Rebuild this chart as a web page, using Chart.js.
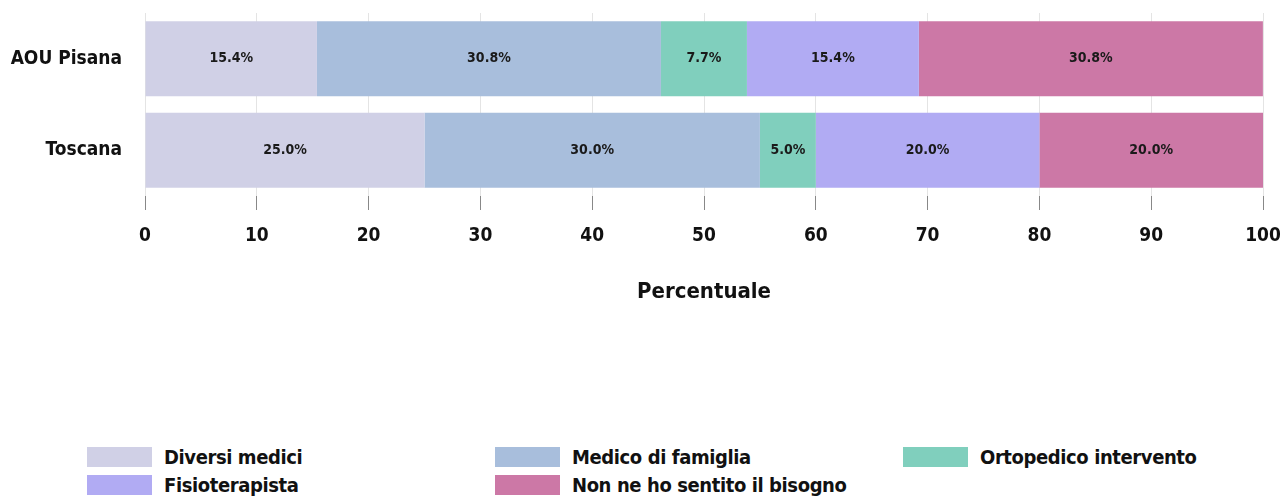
<!DOCTYPE html>
<html>
<head>
<meta charset="utf-8">
<script src="https://cdn.jsdelivr.net/npm/chart.js@4/dist/chart.umd.min.js"></script>
<style>
  html, body { margin: 0; padding: 0; background: #fff; }
  body { width: 1280px; height: 497px; position: relative; overflow: hidden;
         font-family: "DejaVu Sans Condensed", "DejaVu Sans", sans-serif; }
  #wrap { position: absolute; left: 0; top: 0; width: 1280px; height: 305px; }
  #legend { position: absolute; left: 87px; top: 447px; width: 1200px; }
  .item { position: absolute; display: flex; align-items: center; height: 20px;
          font-weight: bold; font-size: 20px; letter-spacing: -0.4px; color: #111; white-space: nowrap; }
  .box { width: 65px; height: 20px; margin-right: 12px; }
</style>
</head>
<body>
<div id="wrap"><canvas id="chart"></canvas></div>
<div id="legend"></div>
<script>
const categories = ['AOU Pisana', 'Toscana'];
const seriesNames = ['Diversi medici', 'Medico di famiglia', 'Ortopedico intervento', 'Fisioterapista', 'Non ne ho sentito il bisogno'];
const diversiMedici = [15.38, 25.0];
const medicoFamiglia = [30.77, 30.0];
const ortopedico = [7.69, 5.0];
const fisioterapista = [15.38, 20.0];
const nonBisogno = [30.77, 20.0];
const xTicks = [0, 10, 20, 30, 40, 50, 60, 70, 80, 90, 100];
const colors = ['#d0d0e6', '#a8bedc', '#80cfbd', '#b1abf3', '#cc78a6'];

const FONT = '"DejaVu Sans Condensed", "DejaVu Sans", sans-serif';
const values = [diversiMedici, medicoFamiglia, ortopedico, fisioterapista, nonBisogno];

// labels in the middle of every segment
const segLabels = {
  id: 'segLabels',
  afterDatasetsDraw(chart) {
    const ctx = chart.ctx;
    ctx.save();
    ctx.font = 'bold 14px ' + FONT;
    ctx.fillStyle = '#1a1a1a';
    ctx.textAlign = 'center';
    ctx.textBaseline = 'middle';
    chart.data.datasets.forEach((ds, i) => {
      chart.getDatasetMeta(i).data.forEach((bar, j) => {
        const { x, y, base } = bar.getProps(['x', 'y', 'base'], true);
        ctx.fillText(ds.data[j].toFixed(1) + '%', (x + base) / 2, y);
      });
    });
    ctx.restore();
  }
};

new Chart(document.getElementById('chart'), {
  type: 'bar',
  data: {
    labels: categories,
    datasets: seriesNames.map((name, i) => ({
      label: name,
      data: values[i],
      backgroundColor: colors[i],
      borderWidth: 0,
      barPercentage: 0.82,
      categoryPercentage: 1
    }))
  },
  options: {
    indexAxis: 'y',
    responsive: true,
    maintainAspectRatio: false,
    animation: false,
    layout: { padding: { top: 13, right: 17, left: 0, bottom: 0 } },
    plugins: { legend: { display: false }, tooltip: { enabled: false } },
    scales: {
      x: {
        stacked: true,
        min: 0, max: 100,
        afterBuildTicks: (axis) => { axis.ticks = xTicks.map(v => ({ value: v })); },
        afterFit: (s) => { s.height = 109; s.paddingLeft = 0; s.paddingRight = 0; },
        grid: { color: '#e4e4e4', tickColor: '#888', tickLength: 14, drawTicks: true },
        border: { display: false },
        ticks: { color: '#111', padding: 15, font: { family: FONT, size: 19, weight: 'bold' } },
        title: { display: true, text: 'Percentuale', color: '#111', padding: { top: 20, bottom: 0 },
                 font: { family: FONT, size: 22, weight: 'bold' } }
      },
      y: {
        stacked: true,
        afterFit: (s) => { s.width = 145; s.paddingTop = 0; s.paddingBottom = 0; },
        grid: { display: false, drawTicks: false },
        border: { display: false },
        ticks: { color: '#111', padding: 23, font: { family: FONT, size: 19, weight: 'bold' } }
      }
    }
  },
  plugins: [segLabels]
});

// legend in 3 columns, filled row by row
const legend = document.getElementById('legend');
seriesNames.forEach((name, i) => {
  const el = document.createElement('div');
  el.className = 'item';
  el.style.left = (i % 3) * 408 + 'px';
  el.style.top = Math.floor(i / 3) * 28 + 'px';
  el.innerHTML = `<span class="box" style="background:${colors[i]}"></span><span>${name}</span>`;
  legend.appendChild(el);
});
</script>
</body>
</html>
